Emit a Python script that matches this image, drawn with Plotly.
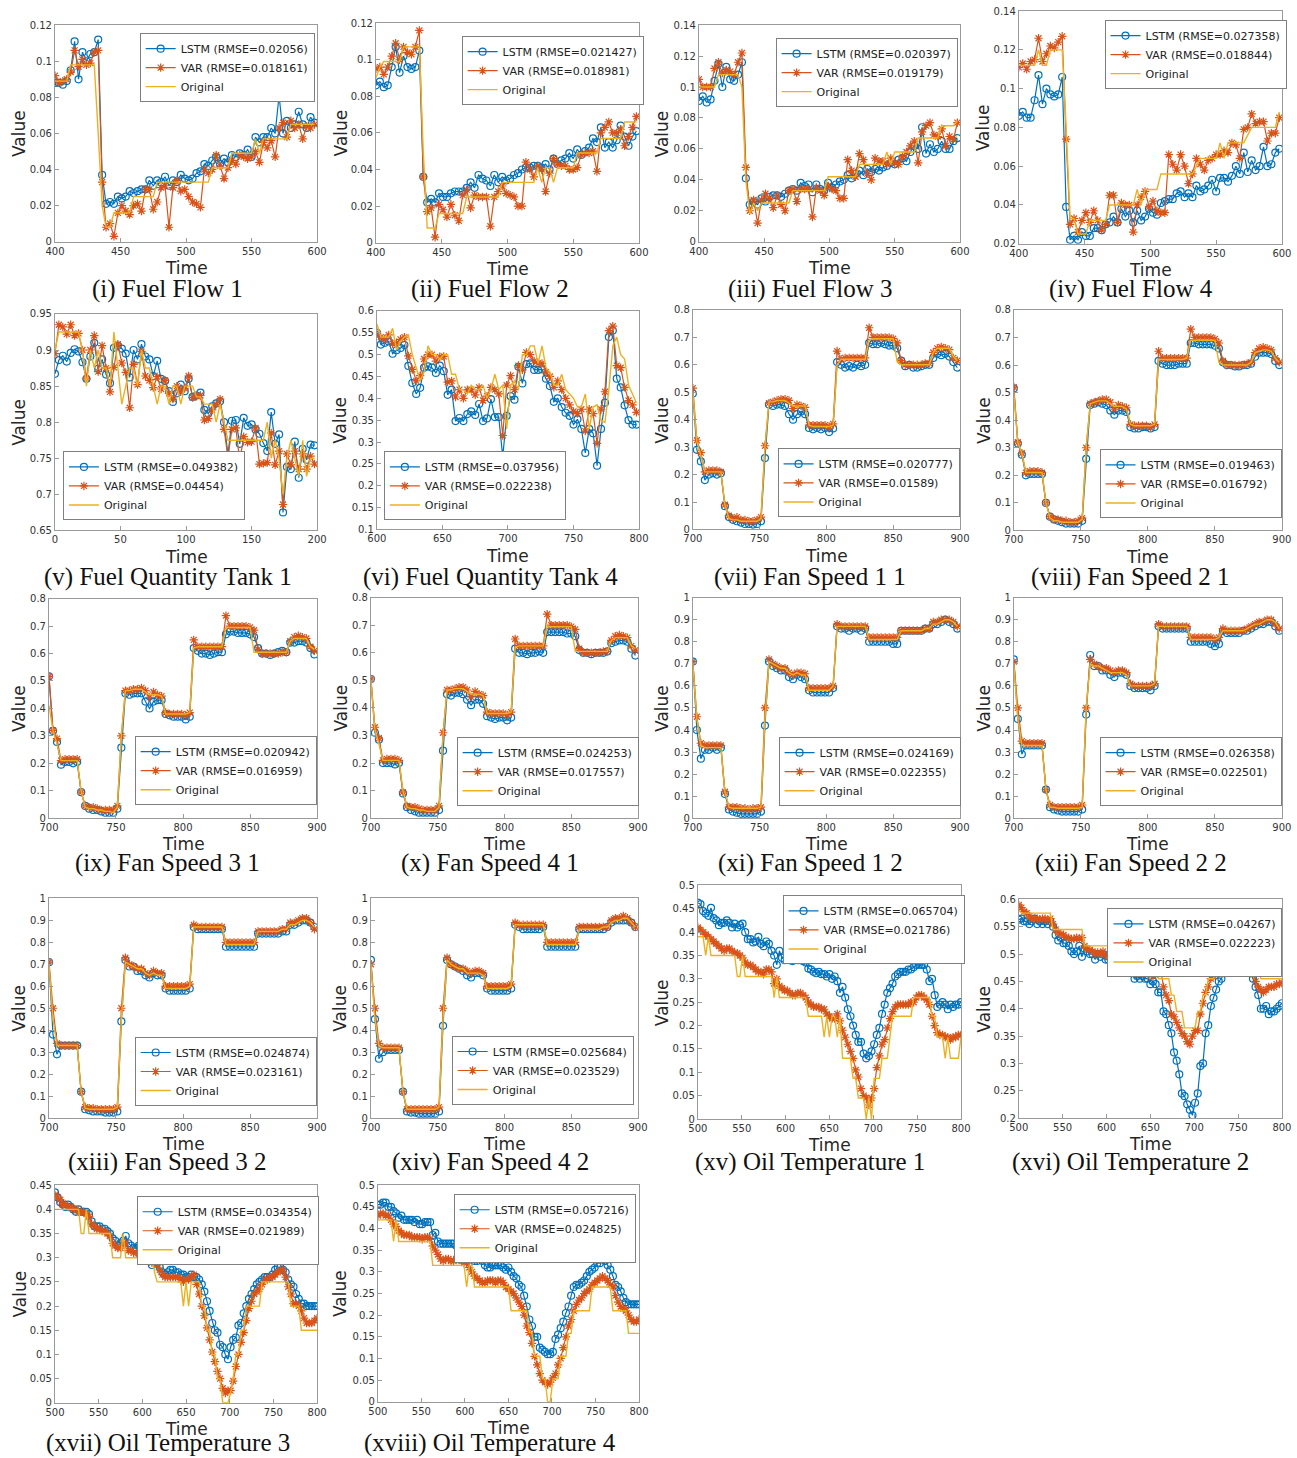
import numpy as np
import plotly.graph_objects as go

W, H = 1297, 1458
# layout positions below are page pixels; the page body puts an 8 px margin
# around the plot and the page is viewed at SX x SY of its full size
MARGIN = 8
SX, SY = 1297 / 1313, 1458 / 1474

C_LSTM = "#0072BD"
C_VAR = "#D95319"
C_ORIG = "#EDB120"

# ---------------- Fuel Flow (t = 400, 403, ..., 598) ----------------
ff1_lstm = [.088,.088,.087,.089,.095,.111,.090,.105,.100,.104,.105,.112,.037,.021,.022,.021,.025,.024,.025,.028,.027,.028,.029,.029,.034,.031,.034,.033,.036,.031,.034,.033,.037,.035,.034,.035,.038,.039,.043,.042,.045,.047,.043,.046,.044,.048,.047,.049,.048,.051,.047,.058,.055,.058,.058,.063,.060,.081,.060,.067,.063,.065,.072,.065,.063,.069,.066]
ff1_var = [.092,.088,.089,.090,.094,.106,.097,.101,.098,.099,.105,.106,.033,.008,.010,.003,.016,.020,.017,.015,.020,.021,.017,.029,.029,.018,.022,.030,.031,.008,.030,.034,.028,.029,.025,.022,.021,.019,.040,.038,.040,.048,.042,.035,.041,.045,.043,.048,.047,.046,.047,.050,.044,.055,.052,.056,.047,.063,.066,.058,.067,.063,.065,.057,.064,.063,.065]
ff1_orig = [.089,.089,.089,.089,.098,.098,.098,.098,.098,.098,.098,.060,.020,.008,.008,.016,.016,.016,.016,.016,.025,.025,.025,.025,.025,.025,.033,.033,.033,.033,.033,.033,.033,.033,.033,.033,.033,.033,.033,.033,.041,.041,.041,.041,.041,.049,.049,.049,.049,.049,.049,.057,.049,.057,.057,.057,.057,.057,.057,.057,.065,.065,.065,.065,.065,.065,.065]

ff2_lstm = [.086,.088,.085,.086,.096,.107,.093,.102,.096,.095,.096,.105,.036,.022,.024,.022,.027,.025,.025,.027,.028,.028,.028,.030,.033,.030,.037,.035,.034,.031,.037,.033,.036,.034,.035,.037,.038,.040,.041,.041,.042,.042,.041,.043,.040,.046,.043,.045,.046,.049,.046,.051,.048,.050,.052,.057,.055,.063,.052,.055,.052,.056,.064,.058,.053,.058,.061]
ff2_var = [.095,.096,.092,.096,.102,.109,.100,.107,.104,.103,.107,.116,.036,.017,.019,.003,.021,.018,.014,.021,.015,.012,.026,.029,.019,.026,.025,.025,.025,.009,.025,.028,.031,.027,.026,.025,.020,.020,.044,.040,.036,.042,.040,.028,.038,.046,.043,.042,.042,.040,.040,.041,.048,.049,.049,.050,.039,.060,.063,.066,.060,.060,.062,.053,.058,.063,.069]
ff2_orig = [.090,.096,.099,.099,.099,.099,.099,.107,.107,.107,.107,.107,.050,.008,.008,.008,.016,.016,.016,.016,.016,.016,.016,.025,.025,.025,.025,.025,.025,.025,.025,.025,.033,.033,.033,.033,.033,.033,.033,.033,.033,.041,.033,.041,.041,.033,.041,.041,.041,.041,.041,.049,.049,.049,.049,.049,.049,.057,.057,.057,.057,.057,.057,.066,.066,.066,.066]

ff3_lstm = [.091,.094,.090,.092,.104,.115,.100,.113,.105,.104,.108,.116,.041,.024,.026,.024,.028,.026,.029,.030,.030,.029,.031,.033,.034,.033,.038,.036,.037,.032,.037,.034,.033,.038,.035,.037,.039,.040,.043,.041,.044,.046,.043,.047,.045,.047,.046,.048,.049,.051,.050,.053,.054,.052,.058,.062,.060,.074,.057,.063,.058,.060,.065,.060,.060,.065,.067]
ff3_var = [.105,.100,.100,.100,.112,.116,.109,.111,.110,.108,.116,.122,.048,.020,.027,.012,.027,.031,.028,.022,.030,.024,.020,.033,.034,.026,.034,.034,.034,.016,.035,.033,.030,.036,.034,.033,.028,.028,.053,.046,.042,.057,.053,.044,.040,.054,.052,.052,.050,.054,.051,.050,.055,.058,.062,.065,.051,.071,.075,.077,.069,.068,.073,.062,.068,.066,.077]
ff3_orig = [.100,.100,.100,.100,.100,.108,.108,.108,.108,.108,.108,.100,.040,.018,.025,.020,.025,.025,.025,.025,.025,.025,.025,.025,.033,.033,.033,.033,.033,.033,.033,.033,.033,.042,.042,.042,.042,.042,.042,.042,.042,.050,.050,.050,.050,.050,.050,.050,.058,.050,.058,.058,.058,.058,.058,.058,.067,.067,.067,.067,.067,.067,.075,.075,.075,.075,.078]

ff4_lstm = [.086,.088,.085,.085,.094,.107,.092,.100,.097,.096,.097,.106,.039,.022,.024,.022,.026,.024,.024,.028,.028,.027,.030,.031,.034,.031,.038,.034,.037,.031,.037,.032,.034,.038,.036,.035,.041,.042,.043,.043,.046,.047,.044,.046,.044,.050,.047,.048,.050,.053,.047,.054,.054,.052,.055,.060,.056,.067,.057,.063,.058,.060,.070,.060,.061,.067,.069]
ff4_var = [.111,.113,.110,.114,.115,.126,.114,.118,.122,.121,.124,.127,.074,.030,.033,.026,.032,.036,.031,.037,.032,.027,.030,.045,.045,.031,.041,.040,.040,.026,.040,.044,.047,.039,.042,.037,.036,.036,.066,.061,.058,.066,.060,.051,.056,.064,.061,.058,.063,.064,.066,.066,.068,.067,.072,.071,.064,.079,.080,.087,.082,.083,.083,.073,.077,.077,.085]
ff4_orig = [.112,.112,.112,.112,.112,.120,.112,.112,.120,.120,.120,.120,.080,.033,.033,.025,.025,.025,.032,.032,.032,.032,.032,.040,.040,.040,.040,.040,.040,.040,.048,.040,.048,.048,.048,.048,.056,.056,.056,.056,.056,.056,.056,.056,.056,.060,.064,.064,.064,.064,.064,.072,.064,.072,.072,.072,.072,.072,.076,.080,.080,.080,.080,.080,.080,.080,.088]

# ---------------- Fuel Quantity (t = 0..198 and 600..798, step 3) ----------------
fq1_lstm = [.867,.886,.892,.884,.896,.901,.898,.883,.860,.891,.910,.874,.887,.866,.854,.903,.906,.902,.895,.862,.900,.887,.908,.891,.887,.864,.885,.860,.857,.843,.828,.840,.852,.843,.860,.835,.837,.841,.817,.812,.822,.826,.829,.800,.755,.802,.803,.770,.806,.795,.797,.790,.784,.771,.760,.814,.770,.783,.675,.738,.735,.773,.723,.763,.748,.769,.768]
fq1_var = [.895,.935,.932,.922,.935,.920,.923,.900,.860,.900,.920,.870,.906,.875,.842,.876,.908,.882,.869,.820,.880,.852,.898,.864,.858,.848,.863,.846,.858,.840,.832,.850,.842,.847,.864,.834,.836,.837,.803,.805,.817,.825,.832,.790,.752,.790,.792,.746,.780,.772,.773,.792,.742,.743,.744,.785,.741,.760,.686,.756,.741,.760,.735,.756,.735,.753,.742]
fq1_orig = [.900,.925,.925,.925,.925,.925,.925,.900,.850,.900,.875,.900,.875,.875,.850,.925,.875,.825,.850,.875,.875,.850,.900,.875,.875,.850,.825,.850,.850,.825,.850,.850,.825,.850,.850,.850,.835,.835,.825,.825,.825,.800,.825,.800,.775,.775,.775,.775,.775,.775,.775,.775,.775,.775,.800,.750,.775,.750,.700,.750,.775,.750,.725,.775,.725,.750,.750]

fq4_lstm = [.550,.523,.527,.530,.502,.510,.515,.522,.474,.435,.410,.424,.470,.473,.470,.458,.475,.462,.408,.420,.348,.355,.348,.364,.370,.362,.387,.348,.354,.398,.357,.357,.266,.360,.405,.397,.472,.434,.478,.480,.465,.465,.466,.445,.428,.392,.400,.380,.367,.360,.340,.352,.330,.275,.330,.320,.246,.330,.390,.540,.555,.445,.425,.384,.350,.340,.340]
fq4_var = [.550,.540,.535,.545,.525,.527,.535,.540,.497,.466,.440,.452,.490,.500,.500,.485,.495,.496,.437,.440,.403,.420,.400,.420,.420,.408,.425,.395,.405,.425,.420,.410,.315,.430,.452,.420,.475,.465,.505,.500,.485,.480,.480,.460,.450,.425,.440,.420,.400,.385,.370,.365,.375,.325,.375,.365,.297,.375,.415,.555,.565,.475,.470,.425,.395,.385,.368]
fq4_orig = [.570,.540,.540,.540,.560,.510,.530,.540,.545,.500,.470,.440,.460,.520,.500,.500,.490,.500,.500,.455,.455,.420,.420,.410,.430,.420,.420,.430,.400,.420,.455,.420,.430,.330,.430,.440,.420,.500,.500,.520,.520,.480,.520,.470,.460,.430,.430,.455,.420,.410,.400,.380,.380,.410,.330,.380,.385,.350,.345,.420,.520,.540,.500,.490,.430,.410,.390]

# ---------------- Fan Speed, engine 1 (t = 700, 703, ..., 898) ----------------
fs11_lstm = [.495,.290,.248,.180,.200,.205,.200,.205,.085,.045,.035,.030,.025,.020,.020,.018,.020,.030,.260,.455,.450,.455,.455,.450,.420,.400,.420,.430,.420,.370,.365,.370,.365,.370,.355,.368,.610,.600,.590,.595,.590,.600,.595,.600,.680,.675,.675,.680,.675,.670,.670,.660,.615,.595,.600,.590,.590,.595,.600,.600,.625,.640,.635,.640,.630,.610,.590]
fs11_var = [.515,.325,.280,.210,.215,.215,.215,.210,.090,.050,.040,.045,.035,.035,.030,.030,.035,.045,.305,.460,.465,.470,.475,.475,.470,.440,.455,.450,.445,.380,.380,.380,.380,.380,.375,.385,.650,.620,.625,.625,.625,.625,.625,.625,.735,.700,.700,.700,.700,.700,.695,.680,.615,.600,.600,.600,.600,.600,.605,.605,.645,.660,.665,.660,.655,.625,.615]
fs11_orig = [.500,.320,.270,.210,.210,.210,.210,.210,.090,.040,.035,.035,.030,.030,.030,.030,.030,.040,.300,.465,.465,.470,.470,.470,.460,.450,.450,.450,.450,.380,.375,.375,.375,.375,.375,.380,.600,.620,.620,.620,.620,.620,.620,.620,.690,.695,.695,.695,.695,.695,.695,.610,.600,.600,.600,.600,.600,.600,.600,.600,.645,.660,.660,.660,.660,.630,.615]

fs21_lstm = [.515,.315,.275,.200,.205,.205,.205,.205,.100,.050,.040,.035,.030,.025,.025,.025,.025,.035,.260,.455,.460,.465,.460,.455,.435,.420,.435,.435,.430,.375,.370,.370,.375,.375,.370,.375,.615,.605,.600,.600,.600,.605,.605,.605,.680,.680,.675,.675,.675,.675,.670,.660,.610,.600,.600,.595,.595,.600,.600,.605,.630,.645,.645,.645,.640,.615,.600]
fs21_var = [.520,.320,.280,.210,.215,.215,.215,.210,.100,.050,.040,.040,.035,.035,.030,.030,.035,.045,.300,.460,.465,.470,.475,.475,.465,.440,.455,.450,.445,.385,.380,.380,.380,.380,.375,.385,.650,.625,.625,.625,.625,.625,.625,.625,.730,.700,.700,.700,.700,.700,.695,.680,.615,.600,.600,.600,.600,.600,.605,.610,.645,.660,.665,.660,.655,.625,.610]
fs21_orig = [.500,.320,.280,.210,.210,.210,.210,.210,.100,.045,.035,.035,.030,.030,.030,.030,.030,.040,.300,.460,.465,.470,.470,.470,.460,.450,.450,.450,.440,.385,.380,.380,.380,.380,.380,.385,.620,.620,.620,.620,.620,.620,.620,.625,.690,.690,.690,.690,.690,.690,.690,.610,.600,.600,.600,.600,.600,.600,.600,.610,.645,.650,.655,.655,.650,.625,.610]

fs31_lstm = [.517,.318,.278,.195,.205,.205,.200,.205,.095,.045,.035,.030,.030,.025,.020,.020,.020,.035,.257,.455,.450,.455,.455,.455,.425,.400,.425,.430,.430,.380,.375,.370,.370,.370,.360,.370,.620,.610,.600,.600,.595,.600,.605,.605,.670,.680,.680,.675,.675,.675,.670,.660,.620,.600,.600,.595,.600,.605,.610,.605,.640,.640,.645,.645,.640,.620,.597]
fs31_var = [.517,.320,.290,.210,.215,.215,.215,.215,.095,.045,.040,.040,.035,.030,.030,.030,.030,.045,.300,.465,.465,.470,.470,.475,.465,.440,.460,.450,.445,.385,.380,.380,.380,.380,.375,.385,.650,.625,.625,.625,.625,.625,.625,.625,.738,.700,.700,.700,.700,.700,.695,.685,.615,.600,.600,.600,.600,.600,.605,.605,.645,.660,.665,.660,.655,.625,.610]
fs31_orig = [.410,.320,.270,.210,.210,.210,.210,.210,.100,.040,.035,.035,.030,.030,.025,.025,.020,.040,.300,.465,.465,.470,.470,.470,.460,.450,.450,.450,.445,.380,.380,.380,.380,.380,.380,.385,.620,.625,.625,.625,.625,.625,.625,.625,.695,.695,.695,.695,.695,.695,.695,.605,.605,.605,.605,.605,.605,.605,.605,.605,.645,.655,.655,.655,.655,.625,.615]

fs41_lstm = [.505,.310,.285,.200,.200,.200,.195,.200,.090,.040,.030,.025,.020,.020,.020,.020,.020,.030,.245,.450,.445,.455,.455,.450,.430,.410,.430,.430,.415,.370,.365,.360,.365,.365,.355,.365,.615,.600,.600,.595,.600,.600,.605,.600,.675,.675,.675,.675,.675,.670,.670,.660,.610,.600,.600,.595,.600,.600,.600,.605,.635,.640,.645,.645,.640,.615,.590]
fs41_var = [.505,.330,.290,.210,.215,.215,.215,.210,.095,.045,.040,.040,.035,.030,.030,.030,.030,.045,.310,.465,.465,.470,.475,.475,.465,.440,.460,.450,.445,.385,.380,.380,.380,.380,.375,.385,.650,.625,.625,.625,.625,.625,.625,.625,.740,.700,.700,.700,.700,.700,.695,.685,.615,.600,.600,.600,.600,.600,.605,.605,.645,.660,.665,.660,.655,.625,.610]
fs41_orig = [.500,.320,.270,.210,.210,.210,.210,.210,.100,.040,.035,.035,.030,.030,.025,.025,.025,.040,.300,.465,.465,.470,.470,.470,.460,.450,.450,.450,.445,.380,.380,.380,.380,.380,.380,.385,.620,.625,.625,.625,.625,.625,.625,.625,.695,.695,.695,.695,.695,.695,.695,.605,.605,.605,.605,.605,.605,.605,.605,.605,.645,.655,.655,.655,.655,.625,.615]

# ---------------- Fan Speed, engine 2 ----------------
fs12_lstm = [.710,.400,.270,.310,.310,.320,.310,.320,.110,.040,.030,.025,.020,.020,.020,.020,.020,.030,.420,.710,.690,.680,.670,.670,.640,.630,.650,.640,.630,.580,.570,.570,.570,.570,.570,.590,.870,.860,.860,.850,.860,.860,.850,.860,.800,.800,.800,.800,.800,.800,.790,.790,.850,.850,.850,.850,.850,.850,.860,.860,.880,.880,.890,.900,.890,.880,.860]
fs12_var = [.710,.460,.340,.330,.330,.330,.330,.330,.120,.050,.050,.050,.045,.045,.040,.045,.045,.050,.500,.720,.700,.690,.680,.680,.660,.650,.660,.660,.655,.590,.590,.590,.590,.590,.590,.600,.880,.870,.870,.870,.870,.870,.870,.870,.820,.820,.820,.820,.820,.820,.820,.820,.850,.850,.850,.850,.850,.850,.860,.860,.890,.890,.900,.900,.900,.890,.870]
fs12_orig = [.700,.450,.330,.320,.320,.320,.320,.320,.120,.050,.045,.045,.045,.045,.045,.045,.045,.050,.450,.710,.700,.690,.680,.680,.660,.650,.660,.650,.650,.580,.580,.580,.580,.580,.580,.600,.870,.870,.870,.870,.870,.870,.870,.870,.810,.810,.810,.810,.810,.810,.810,.810,.850,.850,.850,.850,.850,.850,.860,.860,.880,.880,.890,.900,.900,.890,.870]

fs22_lstm = [.720,.450,.290,.330,.330,.330,.330,.330,.130,.050,.040,.035,.030,.030,.030,.030,.030,.040,.470,.740,.690,.690,.670,.670,.650,.640,.660,.660,.650,.600,.590,.590,.590,.590,.580,.600,.870,.860,.860,.860,.860,.860,.860,.860,.800,.800,.800,.800,.800,.790,.780,.790,.850,.840,.840,.840,.840,.850,.850,.860,.870,.880,.880,.890,.890,.870,.850]
fs22_var = [.710,.500,.350,.340,.340,.340,.340,.340,.130,.060,.050,.050,.050,.050,.050,.050,.050,.060,.500,.720,.700,.690,.680,.680,.670,.660,.670,.670,.660,.610,.600,.600,.600,.600,.600,.610,.880,.870,.870,.870,.870,.870,.870,.870,.820,.820,.820,.820,.820,.820,.810,.820,.860,.850,.850,.850,.850,.850,.860,.870,.880,.890,.890,.900,.900,.880,.860]
fs22_orig = [.700,.450,.330,.330,.330,.330,.330,.330,.130,.050,.050,.045,.045,.045,.045,.045,.045,.050,.500,.700,.690,.690,.680,.670,.660,.660,.660,.660,.650,.600,.600,.600,.600,.600,.600,.610,.870,.870,.870,.870,.870,.870,.870,.870,.810,.810,.810,.810,.810,.810,.810,.820,.850,.850,.850,.850,.850,.850,.860,.870,.880,.880,.890,.900,.900,.890,.860]

fs32_lstm = [.710,.380,.290,.330,.330,.330,.330,.330,.120,.040,.035,.030,.030,.030,.025,.025,.025,.030,.440,.720,.690,.690,.670,.670,.650,.640,.660,.650,.650,.590,.580,.580,.580,.580,.580,.590,.870,.860,.860,.860,.860,.860,.860,.860,.780,.780,.780,.780,.780,.780,.780,.780,.840,.840,.840,.840,.840,.840,.850,.850,.880,.880,.890,.900,.900,.890,.870]
fs32_var = [.710,.500,.340,.330,.330,.330,.330,.330,.120,.050,.045,.045,.040,.040,.040,.040,.040,.050,.500,.730,.700,.690,.680,.680,.660,.650,.670,.660,.660,.600,.600,.600,.600,.600,.600,.610,.880,.870,.870,.870,.870,.870,.870,.870,.800,.800,.800,.800,.800,.800,.800,.800,.850,.850,.850,.850,.850,.850,.860,.860,.890,.890,.900,.910,.910,.890,.860]
fs32_orig = [.700,.450,.330,.330,.330,.330,.330,.330,.120,.045,.040,.040,.040,.040,.040,.040,.040,.050,.450,.710,.700,.690,.680,.680,.660,.650,.660,.650,.650,.590,.590,.590,.590,.590,.590,.600,.870,.870,.870,.870,.870,.870,.870,.870,.790,.790,.790,.790,.790,.790,.790,.790,.850,.850,.850,.850,.850,.850,.860,.860,.880,.880,.890,.900,.900,.890,.870]

fs42_lstm = [.720,.450,.270,.300,.310,.310,.310,.310,.120,.030,.025,.025,.020,.020,.020,.020,.020,.030,.420,.720,.700,.690,.680,.670,.650,.640,.660,.660,.650,.590,.580,.580,.580,.580,.580,.590,.880,.870,.860,.860,.860,.860,.860,.870,.780,.780,.780,.780,.780,.780,.780,.780,.860,.860,.860,.860,.860,.860,.860,.870,.890,.900,.900,.900,.900,.890,.870]
fs42_var = [.700,.500,.340,.320,.320,.320,.320,.320,.120,.040,.040,.040,.040,.040,.040,.040,.040,.050,.500,.730,.700,.690,.680,.680,.670,.660,.670,.670,.660,.600,.600,.600,.600,.600,.600,.610,.890,.880,.880,.880,.880,.880,.880,.880,.800,.800,.800,.800,.800,.800,.800,.800,.870,.870,.870,.870,.870,.870,.870,.870,.900,.910,.910,.920,.910,.890,.870]
fs42_orig = [.700,.450,.330,.320,.320,.320,.320,.320,.120,.040,.040,.040,.040,.040,.040,.040,.040,.050,.450,.720,.700,.690,.680,.680,.660,.660,.660,.660,.650,.590,.590,.590,.590,.590,.590,.600,.880,.880,.880,.880,.880,.880,.880,.880,.790,.790,.790,.790,.790,.790,.790,.790,.860,.860,.860,.860,.860,.860,.870,.870,.890,.900,.900,.910,.910,.890,.870]

# ---------------- Oil Temperature (t = 500, 503, ..., 800) ----------------
ot1_lstm = [.463,.460,.445,.440,.435,.452,.430,.425,.415,.420,.420,.425,.420,.410,.418,.410,.415,.418,.400,.385,.385,.378,.380,.390,.375,.370,.380,.375,.360,.350,.330,.360,.345,.340,.345,.340,.338,.342,.340,.340,.338,.335,.322,.320,.315,.312,.315,.310,.310,.305,.310,.300,.305,.295,.270,.283,.260,.235,.220,.200,.180,.165,.165,.140,.130,.135,.145,.160,.180,.195,.225,.245,.270,.280,.290,.305,.310,.315,.315,.315,.320,.320,.325,.330,.330,.330,.330,.320,.295,.300,.265,.240,.245,.250,.245,.235,.245,.240,.245,.245,.250]
ot1_var = [.410,.405,.400,.395,.390,.385,.380,.375,.370,.365,.360,.365,.365,.360,.355,.355,.350,.345,.335,.330,.330,.325,.320,.315,.315,.310,.320,.320,.315,.290,.300,.285,.280,.275,.275,.270,.265,.265,.270,.270,.265,.260,.250,.245,.240,.240,.240,.235,.235,.225,.220,.215,.215,.225,.210,.190,.175,.160,.145,.130,.105,.090,.065,.050,.045,.030,.045,.065,.110,.135,.160,.170,.195,.215,.230,.240,.245,.245,.245,.245,.245,.250,.250,.260,.265,.265,.260,.255,.245,.220,.200,.185,.180,.180,.175,.175,.170,.175,.175,.180,.180]
ot1_orig = [.390,.390,.390,.350,.390,.350,.350,.350,.350,.350,.350,.350,.350,.350,.350,.305,.305,.350,.305,.305,.305,.305,.305,.305,.305,.305,.305,.305,.305,.260,.305,.260,.260,.260,.260,.260,.260,.260,.260,.260,.260,.260,.220,.220,.220,.220,.220,.220,.175,.220,.175,.220,.220,.175,.220,.130,.130,.130,.130,.087,.087,.045,.045,.045,0.0,.045,0.0,.087,.087,.087,.130,.130,.130,.175,.220,.220,.220,.220,.220,.220,.220,.220,.260,.260,.260,.260,.260,.260,.260,.220,.220,.175,.175,.175,.130,.175,.130,.130,.130,.130,.175]

ot2_lstm = [.563,.565,.560,.560,.555,.560,.565,.555,.560,.555,.560,.555,.560,.550,.535,.525,.530,.520,.520,.515,.505,.500,.505,.515,.495,.510,.505,.500,.500,.490,.500,.495,.500,.490,.490,.485,.485,.472,.475,.475,.475,.470,.470,.465,.455,.460,.455,.460,.455,.455,.445,.450,.445,.430,.430,.395,.390,.370,.355,.320,.305,.280,.245,.240,.225,.215,.205,.228,.245,.295,.300,.355,.370,.405,.420,.435,.450,.455,.465,.475,.470,.475,.480,.475,.475,.470,.475,.475,.465,.455,.440,.425,.400,.400,.405,.390,.395,.395,.400,.405,.410]
ot2_var = [.590,.585,.578,.575,.570,.565,.565,.565,.563,.565,.565,.562,.565,.555,.545,.540,.537,.535,.530,.530,.527,.528,.530,.528,.530,.515,.510,.508,.505,.500,.503,.500,.505,.498,.495,.490,.485,.480,.480,.477,.476,.475,.475,.470,.470,.470,.472,.468,.465,.465,.460,.460,.462,.465,.470,.440,.425,.415,.390,.385,.375,.365,.355,.350,.340,.335,.350,.360,.360,.390,.410,.430,.440,.455,.460,.475,.480,.480,.480,.482,.485,.488,.490,.495,.500,.500,.490,.485,.475,.465,.450,.440,.435,.430,.435,.440,.440,.440,.445,.445,.448]
ot2_orig = [.580,.575,.575,.575,.575,.575,.575,.575,.575,.575,.575,.575,.575,.545,.545,.545,.545,.545,.545,.545,.545,.545,.545,.545,.545,.515,.515,.515,.515,.515,.515,.515,.515,.515,.515,.500,.500,.485,.485,.485,.500,.485,.515,.485,.485,.485,.485,.485,.485,.485,.455,.485,.485,.455,.455,.455,.455,.455,.425,.425,.395,.395,.395,.365,.365,.365,.365,.365,.395,.395,.425,.425,.455,.455,.455,.485,.485,.485,.485,.485,.485,.485,.515,.485,.485,.515,.485,.485,.485,.485,.485,.485,.455,.455,.455,.455,.455,.455,.455,.455,.455]

ot3_lstm = [.435,.425,.415,.410,.405,.410,.405,.400,.395,.400,.395,.395,.395,.390,.375,.365,.365,.365,.360,.360,.355,.350,.340,.335,.325,.330,.335,.345,.330,.325,.320,.320,.325,.320,.320,.320,.310,.285,.295,.290,.280,.270,.265,.270,.275,.275,.270,.270,.265,.265,.260,.260,.265,.260,.260,.255,.245,.230,.210,.190,.165,.150,.145,.120,.115,.100,.090,.115,.130,.135,.160,.165,.185,.200,.215,.225,.235,.245,.250,.255,.260,.260,.260,.265,.275,.280,.280,.275,.270,.255,.245,.240,.225,.215,.205,.205,.200,.200,.200,.200,.200]
ot3_var = [.430,.425,.420,.410,.410,.405,.405,.400,.400,.395,.395,.395,.390,.385,.370,.365,.360,.360,.355,.355,.350,.345,.330,.325,.320,.320,.330,.330,.315,.315,.310,.310,.310,.310,.310,.310,.305,.290,.290,.285,.275,.265,.260,.260,.260,.260,.260,.260,.255,.250,.255,.255,.260,.265,.245,.225,.200,.180,.155,.130,.105,.085,.065,.050,.030,.020,.025,.025,.045,.075,.100,.125,.145,.170,.195,.210,.225,.230,.235,.245,.255,.255,.260,.260,.265,.270,.275,.275,.260,.240,.225,.205,.205,.200,.190,.175,.165,.165,.165,.170,.175]
ot3_orig = [.400,.400,.400,.400,.400,.400,.400,.400,.400,.400,.350,.350,.400,.350,.350,.350,.350,.350,.350,.350,.350,.350,.300,.300,.300,.300,.350,.300,.300,.300,.300,.300,.300,.300,.300,.300,.300,.300,.270,.250,.250,.250,.250,.250,.250,.250,.250,.250,.250,.200,.250,.200,.250,.250,.250,.250,.200,.200,.150,.150,.100,.100,.050,.050,0.0,0.0,0.0,.020,.050,.100,.100,.150,.150,.200,.200,.200,.200,.200,.200,.250,.250,.250,.250,.250,.250,.250,.250,.250,.250,.250,.200,.200,.200,.200,.150,.150,.150,.150,.150,.150,.150]

ot4_lstm = [.455,.455,.460,.460,.450,.450,.440,.435,.425,.430,.420,.420,.420,.420,.415,.420,.410,.410,.415,.415,.415,.385,.390,.370,.365,.365,.365,.365,.365,.365,.360,.365,.360,.360,.360,.340,.335,.325,.325,.330,.325,.315,.310,.310,.315,.315,.315,.315,.310,.305,.310,.300,.290,.285,.270,.265,.245,.220,.190,.175,.150,.150,.125,.120,.115,.110,.110,.115,.145,.155,.170,.185,.205,.220,.245,.265,.270,.270,.275,.280,.290,.300,.305,.310,.320,.320,.330,.325,.315,.305,.290,.270,.265,.255,.240,.230,.225,.225,.225,.225,.225]
ot4_var = [.430,.435,.435,.430,.430,.420,.410,.405,.395,.390,.385,.385,.385,.380,.380,.380,.380,.375,.380,.380,.375,.360,.350,.340,.330,.325,.330,.330,.325,.325,.330,.330,.325,.320,.320,.310,.300,.290,.285,.280,.275,.275,.280,.280,.280,.275,.280,.280,.275,.265,.260,.255,.250,.240,.230,.220,.200,.175,.160,.135,.105,.085,.065,.050,.045,.040,.045,.055,.065,.085,.100,.125,.150,.175,.190,.210,.225,.235,.240,.250,.255,.260,.270,.275,.280,.285,.290,.285,.280,.270,.265,.245,.230,.220,.215,.210,.200,.190,.185,.185,.190]
ot4_orig = [.420,.420,.420,.420,.420,.420,.370,.420,.370,.370,.370,.370,.370,.370,.370,.370,.370,.370,.370,.370,.370,.315,.315,.315,.315,.315,.315,.315,.315,.315,.315,.315,.315,.315,.265,.315,.315,.265,.265,.265,.265,.265,.265,.265,.265,.265,.265,.265,.265,.265,.265,.210,.210,.210,.210,.210,.210,.210,.160,.160,.105,.105,.105,.053,.053,0.0,0.0,.053,.053,.053,.105,.105,.105,.158,.158,.210,.210,.210,.210,.210,.210,.210,.265,.265,.265,.265,.265,.265,.265,.265,.210,.210,.210,.210,.210,.210,.158,.158,.158,.158,.158]

# ---------------- panel definitions ----------------
# box = (left, right, top, bottom) of the plotting area, page pixels
# leg = (left, y, anchor) of the legend box, page pixels
# col = column index (0..3), capy = caption centre line
panels = [
    dict(cap="(i) Fuel Flow 1", t0=400, s=(ff1_lstm, ff1_var, ff1_orig), r=("0.02056", "0.018161"),
         xr=(400, 600), yr=(0, 0.12), dy=0.02, box=(53, 316, 27, 243), leg=(138, 35, "top"), col=0, capy=290),
    dict(cap="(ii) Fuel Flow 2", t0=400, s=(ff2_lstm, ff2_var, ff2_orig), r=("0.021427", "0.018981"),
         xr=(400, 600), yr=(0, 0.12), dy=0.02, box=(375, 639, 25, 244), leg=(461, 38, "top"), col=1, capy=290),
    dict(cap="(iii) Fuel Flow 3", t0=400, s=(ff3_lstm, ff3_var, ff3_orig), r=("0.020397", "0.019179"),
         xr=(400, 600), yr=(0, 0.14), dy=0.02, box=(699, 961, 27, 243), leg=(776, 40, "top"), col=2, capy=290),
    dict(cap="(iv) Fuel Flow 4", t0=400, s=(ff4_lstm, ff4_var, ff4_orig), r=("0.027358", "0.018844"),
         xr=(400, 600), yr=(0.02, 0.14), dy=0.02, box=(1020, 1284, 13, 245), leg=(1106, 22, "top"), col=3, capy=290),
    dict(cap="(v) Fuel Quantity Tank 1", t0=0, s=(fq1_lstm, fq1_var, fq1_orig), r=("0.049382", "0.04454"),
         xr=(0, 200), yr=(0.65, 0.95), dy=0.05, box=(53, 316, 315, 531), leg=(61, 521, "bottom"), col=0, capy=577),
    dict(cap="(vi) Fuel Quantity Tank 4", t0=600, s=(fq4_lstm, fq4_var, fq4_orig), r=("0.037956", "0.022238"),
         xr=(600, 800), yr=(0.1, 0.6), dy=0.05, box=(376, 639, 312, 530), leg=(383, 521, "bottom"), col=1, capy=577),
    dict(cap="(vii) Fan Speed 1 1", t0=700, s=(fs11_lstm, fs11_var, fs11_orig), r=("0.020777", "0.01589"),
         xr=(700, 900), yr=(0, 0.8), dy=0.1, box=(693, 961, 311, 530), leg=(778, 518, "bottom"), col=2, capy=577),
    dict(cap="(viii) Fan Speed 2 1", t0=700, s=(fs21_lstm, fs21_var, fs21_orig), r=("0.019463", "0.016792"),
         xr=(700, 900), yr=(0, 0.8), dy=0.1, box=(1015, 1284, 311, 531), leg=(1101, 519, "bottom"), col=3, capy=577),
    dict(cap="(ix) Fan Speed 3 1", t0=700, s=(fs31_lstm, fs31_var, fs31_orig), r=("0.020942", "0.016959"),
         xr=(700, 900), yr=(0, 0.8), dy=0.1, box=(47, 316, 599, 818), leg=(133, 805, "bottom"), col=0, capy=863),
    dict(cap="(x) Fan Speed 4 1", t0=700, s=(fs41_lstm, fs41_var, fs41_orig), r=("0.024253", "0.017557"),
         xr=(700, 900), yr=(0, 0.8), dy=0.1, box=(370, 638, 598, 818), leg=(456, 806, "bottom"), col=1, capy=863),
    dict(cap="(xi) Fan Speed 1 2", t0=700, s=(fs12_lstm, fs12_var, fs12_orig), r=("0.024169", "0.022355"),
         xr=(700, 900), yr=(0, 1), dy=0.1, box=(693, 961, 598, 818), leg=(779, 806, "bottom"), col=2, capy=863),
    dict(cap="(xii) Fan Speed 2 2", t0=700, s=(fs22_lstm, fs22_var, fs22_orig), r=("0.026358", "0.022501"),
         xr=(700, 900), yr=(0, 1), dy=0.1, box=(1015, 1284, 598, 818), leg=(1101, 806, "bottom"), col=3, capy=863),
    dict(cap="(xiii) Fan Speed 3 2", t0=700, s=(fs32_lstm, fs32_var, fs32_orig), r=("0.024874", "0.023161"),
         xr=(700, 900), yr=(0, 1), dy=0.1, box=(47, 316, 898, 1117), leg=(133, 1105, "bottom"), col=0, capy=1161),
    dict(cap="(xiv) Fan Speed 4 2", t0=700, s=(fs42_lstm, fs42_var, fs42_orig), r=("0.025684", "0.023529"),
         xr=(700, 900), yr=(0, 1), dy=0.1, box=(370, 638, 898, 1117), leg=(451, 1104, "bottom"), col=1, capy=1161),
    dict(cap="(xv) Oil Temperature 1", t0=500, s=(ot1_lstm, ot1_var, ot1_orig), r=("0.065704", "0.021786"),
         xr=(500, 800), yr=(0, 0.5), dy=0.05, box=(698, 962, 885, 1118), leg=(783, 895, "top"), col=2, capy=1161),
    dict(cap="(xvi) Oil Temperature 2", t0=500, s=(ot2_lstm, ot2_var, ot2_orig), r=("0.04267", "0.022223"),
         xr=(500, 800), yr=(0.2, 0.6), dy=0.05, box=(1020, 1284, 899, 1117), leg=(1109, 908, "top"), col=3, capy=1161),
    dict(cap="(xvii) Oil Temperature 3", t0=500, s=(ot3_lstm, ot3_var, ot3_orig), r=("0.034354", "0.021989"),
         xr=(500, 800), yr=(0, 0.45), dy=0.05, box=(53, 316, 1184, 1401), leg=(135, 1195, "top"), col=0, capy=1441),
    dict(cap="(xviii) Oil Temperature 4", t0=500, s=(ot4_lstm, ot4_var, ot4_orig), r=("0.057216", "0.024825"),
         xr=(500, 800), yr=(0, 0.5), dy=0.05, box=(377, 639, 1184, 1400), leg=(453, 1193, "top"), col=1, capy=1441),
]

# horizontal centre of the "Value" label and of the caption for each column
VALUE_X = [17.5, 339.5, 662, 985]
CAP_X = [166, 489.5, 811, 1132.5]


def px(x):
    """page x pixel -> paper fraction"""
    return (x / SX - MARGIN) / W


def py(y):
    """page y pixel -> paper fraction"""
    return 1 - (y / SY - MARGIN) / H


STEP = 3
TICK_FONT = dict(family="DejaVu Sans", size=10, color="#333333")
AX_COLOR = "#9a9a9a"

fig = go.Figure()
layout = dict(width=W, height=H, margin=dict(l=0, r=0, t=0, b=0),
              paper_bgcolor="white", plot_bgcolor="white", annotations=[])

for k, p in enumerate(panels, start=1):
    xa = "x" if k == 1 else f"x{k}"
    ya = "y" if k == 1 else f"y{k}"
    lg = "legend" if k == 1 else f"legend{k}"
    lstm, var, orig = p["s"]
    names = (f"LSTM (RMSE={p['r'][0]})", f"VAR (RMSE={p['r'][1]})", "Original")

    def tx(v):
        return p["t0"] + STEP * np.arange(len(v))

    fig.add_trace(go.Scatter(x=tx(lstm), y=lstm, name=names[0], mode="lines+markers",
                             line=dict(color=C_LSTM, width=1.2),
                             marker=dict(symbol="circle-open", size=7, color=C_LSTM, line=dict(width=1.2)),
                             xaxis=xa, yaxis=ya, legend=lg))
    fig.add_trace(go.Scatter(x=tx(var), y=var, name=names[1], mode="lines+markers",
                             line=dict(color=C_VAR, width=1.2),
                             marker=dict(symbol="asterisk-open", size=7, color=C_VAR, line=dict(width=1.2, color=C_VAR)),
                             xaxis=xa, yaxis=ya, legend=lg))
    fig.add_trace(go.Scatter(x=tx(orig), y=orig, name=names[2], mode="lines",
                             line=dict(color=C_ORIG, width=1.4),
                             xaxis=xa, yaxis=ya, legend=lg))

    L, R, T, B = p["box"]
    xkey = "xaxis" if k == 1 else f"xaxis{k}"
    ykey = "yaxis" if k == 1 else f"yaxis{k}"
    common = dict(showline=True, mirror=True, linecolor=AX_COLOR, linewidth=1,
                  ticks="inside", ticklen=4, tickcolor=AX_COLOR, showgrid=False,
                  zeroline=False, tickfont=TICK_FONT, fixedrange=True)
    layout[xkey] = dict(domain=[px(L), px(R)], range=list(p["xr"]), dtick=50, tick0=0,
                        anchor=ya, **common)
    layout[ykey] = dict(domain=[py(B), py(T)], range=list(p["yr"]), dtick=p["dy"], tick0=0,
                        anchor=xa, **common)

    lx, ly, anc = p["leg"]
    layout[lg] = dict(x=px(lx), y=py(ly), xanchor="left", yanchor=anc,
                      bgcolor="white", bordercolor="#7f7f7f", borderwidth=1,
                      font=dict(family="DejaVu Sans", size=11, color="#222222"),
                      tracegroupgap=0, itemwidth=30)

    cx = (L + R) / 2
    layout["annotations"].append(dict(text="Time", x=px(cx), y=py(B + 26), xref="paper", yref="paper",
                                      showarrow=False, xanchor="center", yanchor="middle",
                                      font=dict(family="DejaVu Sans", size=17, color="#262626")))
    layout["annotations"].append(dict(text=p["cap"], x=px(CAP_X[p["col"]]), y=py(p["capy"]),
                                      xref="paper", yref="paper",
                                      showarrow=False, xanchor="center", yanchor="middle",
                                      font=dict(family="Liberation Serif", size=25, color="#111111")))
    layout["annotations"].append(dict(text="Value", x=px(VALUE_X[p["col"]]), y=py((T + B) / 2),
                                      xref="paper", yref="paper", showarrow=False, textangle=-90,
                                      xanchor="center", yanchor="middle",
                                      font=dict(family="DejaVu Sans", size=17, color="#262626")))

fig.update_layout(**layout)
fig.write_html("out.html")
